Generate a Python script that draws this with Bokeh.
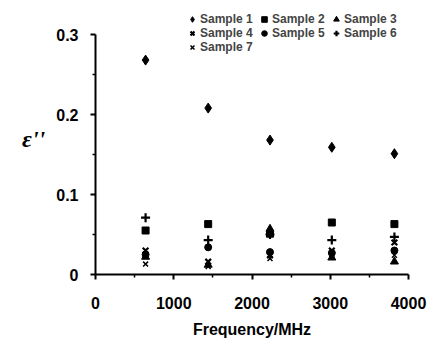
from bokeh.plotting import figure
from bokeh.models import Range1d, Legend, LegendItem, FixedTicker
from bokeh.embed import file_html
from bokeh.resources import INLINE

freq = [640, 1440, 2230, 3020, 3820]
sample1 = [0.268, 0.208, 0.168, 0.159, 0.151]
sample2 = [0.055, 0.063, 0.051, 0.065, 0.063]
sample3 = [0.022, 0.012, 0.057, 0.021, 0.016]
sample4 = [0.030, 0.016, 0.024, 0.030, 0.040]
sample5 = [0.025, 0.034, 0.028, 0.027, 0.030]
sample6 = [0.071, 0.043, 0.050, 0.043, 0.047]
sample7 = [0.013, 0.010, 0.020, 0.025, 0.024]
names = ["Sample 1", "Sample 2", "Sample 3", "Sample 4", "Sample 5", "Sample 6", "Sample 7"]
x_ticks = [0, 1000, 2000, 3000, 4000]
y_ticks = [0, 0.1, 0.2, 0.3]
y_tick_labels = {0: "0", 0.1: "0.1", 0.2: "0.2", 0.3: "0.3"}

p = figure(width=430, height=354, output_backend="svg", toolbar_location=None,
           x_range=Range1d(0, 4000), y_range=Range1d(0, 0.34),
           min_border_left=95, min_border_right=22, min_border_top=2, min_border_bottom=80)
p.grid.visible = False
p.outline_line_color = None
p.background_fill_color = "white"
p.border_fill_color = "white"

FONT = "Liberation Sans"
r = []
r.append(p.scatter(freq, sample1, marker="diamond", size=10, color="black"))
r.append(p.scatter(freq, sample2, marker="square", size=7, color="black"))
r.append(p.scatter(freq, sample3, marker="triangle", size=8, color="black"))
r.append(p.scatter(freq, sample4, marker="x", size=8, line_color="black", line_width=2.2))
r.append(p.scatter(freq, sample5, marker="circle", size=7, color="black"))
r.append(p.scatter(freq, sample6, marker="cross", size=9, line_color="black", line_width=2.2))
r.append(p.scatter(freq, sample7, marker="x", size=7, line_color="black", line_width=1.5))

for ax in (p.xaxis[0], p.yaxis[0]):
    ax.axis_line_width = 2
    ax.axis_line_color = "black"
    ax.major_tick_line_width = 2
    ax.major_tick_out = 5
    ax.major_tick_in = 0
    ax.minor_tick_out = 3
    ax.minor_tick_in = 0
    ax.minor_tick_line_width = 1.5
    ax.major_label_text_font = FONT
    ax.major_label_text_font_style = "bold"
    ax.major_label_text_font_size = "16px"
    ax.major_label_text_color = "black"

p.xaxis[0].ticker = FixedTicker(ticks=x_ticks, minor_ticks=[500, 1500, 2500, 3500])
p.yaxis[0].ticker = FixedTicker(ticks=y_ticks, minor_ticks=[0.05, 0.15, 0.25])
p.yaxis[0].bounds = (0, 0.3)
p.yaxis[0].major_label_overrides = y_tick_labels
p.xaxis[0].major_label_standoff = 17
p.yaxis[0].major_label_standoff = 12
p.xaxis[0].axis_label = "Frequency/MHz"
p.xaxis[0].axis_label_text_font = FONT
p.xaxis[0].axis_label_text_font_style = "bold"
p.xaxis[0].axis_label_text_font_size = "16px"
p.xaxis[0].axis_label_standoff = 9
p.xaxis[0].axis_label_text_color = "black"

ya = p.yaxis[0]
ya.axis_label = "ε''"
ya.axis_label_text_font = "Liberation Serif"
ya.axis_label_text_font_style = "bold italic"
ya.axis_label_text_font_size = "24px"
ya.axis_label_text_color = "black"
ya.axis_label_standoff = 8
if "axis_label_orientation" in ya.properties():
    ya.axis_label_orientation = "horizontal"

rows = [(0, 3), (3, 6), (6, 7)]
for i, (a, b) in enumerate(rows):
    items = [LegendItem(label=names[k], renderers=[r[k]]) for k in range(a, b)]
    lg = Legend(items=items, location=(90, 248 - 14 * i), orientation="horizontal",
                padding=0, margin=0, spacing=0, label_height=14, glyph_height=14,
                glyph_width=14, label_standoff=1, label_width=57, label_text_font=FONT,
                label_text_font_style="bold", label_text_font_size="12px",
                background_fill_alpha=0, border_line_color=None)
    p.add_layout(lg, "center")

open("out.html", "w").write(file_html(p, INLINE))
